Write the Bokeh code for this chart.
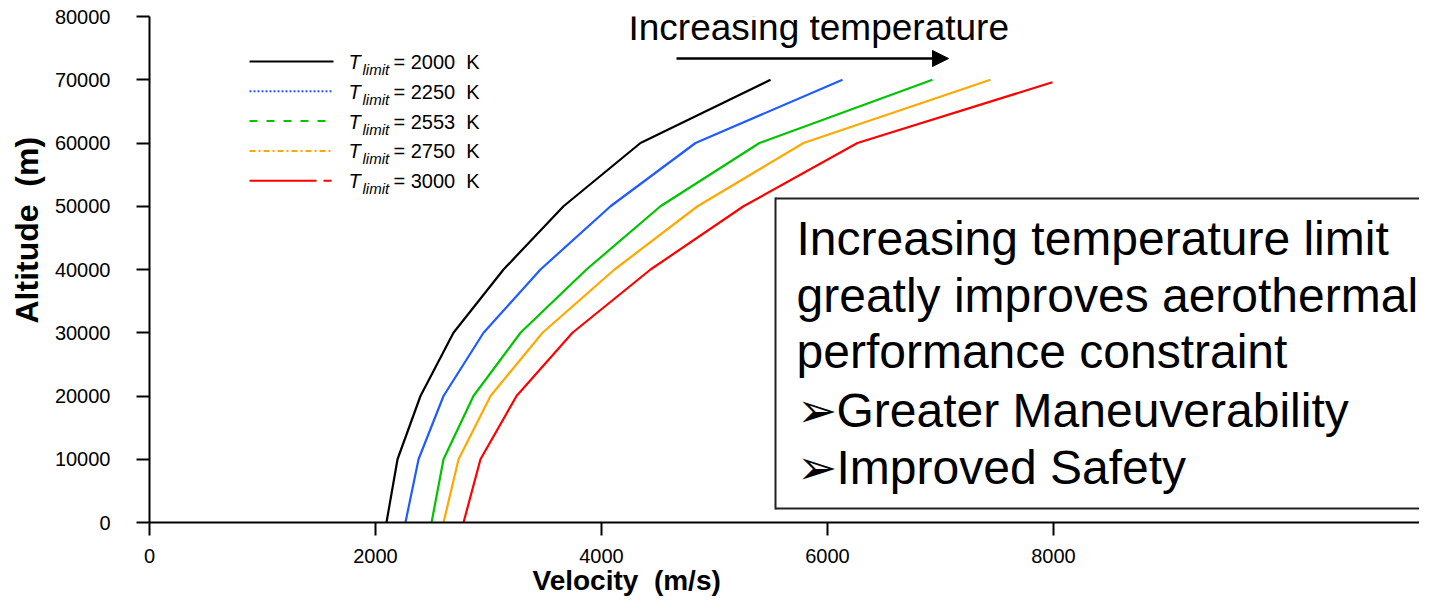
import math
from bokeh.plotting import figure
from bokeh.models import Label, Arrow, NormalHead, BoxAnnotation, FixedTicker, Title
from bokeh.embed import file_html
from bokeh.resources import INLINE

# ---------------- data ----------------
altitude = [0, 10000, 20000, 30000, 40000, 50000, 60000, 70000]
altitude_red = [0, 10000, 20000, 30000, 40000, 50000, 60000, 69600]
v_2000 = [2097, 2195, 2398, 2690, 3133, 3664, 4345, 5496]
v_2250 = [2265, 2381, 2602, 2956, 3460, 4080, 4832, 6133]
v_2553 = [2496, 2602, 2867, 3283, 3867, 4522, 5398, 6929]
v_2750 = [2602, 2735, 3018, 3478, 4115, 4850, 5788, 7442]
v_3000 = [2779, 2929, 3248, 3743, 4434, 5257, 6265, 7991]
t_limits = ["2000", "2250", "2553", "2750", "3000"]
x_ticks = [0, 2000, 4000, 6000, 8000]
y_ticks = [0, 10000, 20000, 30000, 40000, 50000, 60000, 70000, 80000]
x_tick_labels = ["0", "2000", "4000", "6000", "8000"]
y_tick_labels = ["0", "10000", "20000", "30000", "40000", "50000", "60000", "70000", "80000"]
box_lines = ["Increasing temperature limit",
             "greatly improves aerothermal",
             "performance constraint",
             "\u27a2Greater Maneuverability",
             "\u27a2Improved Safety"]
x_title = "Velocity\u00a0 (m/s)"
y_title = "Altitude\u00a0 (m)"

# ---------------- geometry (pixels from the figure's top-left) ----------------
W, H = 1419, 600
FRAME_L, FRAME_T, FRAME_B = 149, 16, 522
X_PX = 0.113                                 # px per m/s
Y_PX = (FRAME_B - FRAME_T) / 80000.0
X_END = (W - FRAME_L) / X_PX

def dx(px):
    return (px - FRAME_L) / X_PX

def dy(py):
    return (FRAME_B - py) / Y_PX

FONT = "Liberation Sans"

p = figure(width=W, height=H, x_range=(0, X_END), y_range=(0, 80000),
           output_backend="svg", toolbar_location=None,
           min_border_left=FRAME_L, min_border_right=0,
           min_border_top=FRAME_T, min_border_bottom=H - FRAME_B)
p.outline_line_color = None
p.xgrid.visible = False
p.ygrid.visible = False
p.background_fill_color = "white"
p.border_fill_color = "white"

for ax in (p.xaxis[0], p.yaxis[0]):
    ax.axis_line_width = 2
    ax.axis_line_color = "black"
    ax.major_tick_line_width = 2
    ax.major_tick_line_color = "black"
    ax.major_tick_in = 0
    ax.major_tick_out = 13
    ax.minor_tick_line_color = None
    ax.major_label_text_font = FONT
    ax.major_label_text_font_size = "20px"
    ax.major_label_text_color = "black"

p.xaxis.ticker = FixedTicker(ticks=x_ticks)
p.yaxis.ticker = FixedTicker(ticks=y_ticks)
p.xaxis.major_label_overrides = {t: l for t, l in zip(x_ticks, x_tick_labels)}
p.yaxis.major_label_overrides = {t: l for t, l in zip(y_ticks, y_tick_labels)}
p.xaxis.major_label_standoff = 13
p.xaxis.major_label_text_line_height = 0.8
p.yaxis.major_label_standoff = 26

# axis titles as side-panel titles, placed off-centre as in the original
p.add_layout(Title(text=x_title, align="left", offset=383, standoff=-5,
                   text_font=FONT, text_font_size="28px", text_font_style="bold",
                   text_color="black"), "below")
p.add_layout(Title(text=y_title, align="left", offset=199, standoff=13,
                   text_font=FONT, text_font_size="32px", text_font_style="bold",
                   text_color="black"), "left")

series = [v_2000, v_2250, v_2553, v_2750, v_3000]
alts = [altitude, altitude, altitude, altitude, altitude_red]
colors = ["black", "#1f5cff", "#00c400", "#ffa800", "#ff0000"]
dashes = ["solid", "2 2", "8 9", "6 3 2 3", "67 7 8 7"]

for v, a, c in zip(series, alts, colors):
    p.line(v, a, line_color=c, line_width=2.2)

# ---------------- legend (drawn manually) ----------------
for i, (c, d, t) in enumerate(zip(colors, dashes, t_limits)):
    ly = 61 + 29.8 * i
    p.add_layout(Arrow(x_start=dx(249), y_start=dy(ly), x_end=dx(333), y_end=dy(ly),
                       end=None, line_color=c, line_width=2, line_dash=d))
    p.add_layout(Label(x=dx(348), y=dy(ly + 0.5), text="T", text_font=FONT,
                       text_font_style="italic", text_font_size="20px",
                       text_baseline="middle", text_color="black"))
    p.add_layout(Label(x=dx(362), y=dy(ly + 8), text="limit", text_font=FONT,
                       text_font_style="italic", text_font_size="15px",
                       text_baseline="middle", text_color="black"))
    p.add_layout(Label(x=dx(393), y=dy(ly + 0.5), text="= " + t + "\u00a0 K", text_font=FONT,
                       text_font_size="20px", text_baseline="middle", text_color="black"))

# ---------------- annotation arrow ----------------
p.add_layout(Label(x=dx(628), y=dy(27), text="Increasing temperature", text_font=FONT,
                   text_font_size="37px", text_baseline="middle", text_color="black"))
p.add_layout(Arrow(x_start=dx(676), y_start=dy(58), x_end=dx(948), y_end=dy(58),
                   line_color="black", line_width=2.5,
                   end=NormalHead(size=16, fill_color="black", line_color="black")))

# ---------------- text box ----------------
BOX_L, BOX_T, BOX_B = 775, 198, 508
p.add_layout(BoxAnnotation(left=dx(BOX_L), right=X_END, top=dy(BOX_T), bottom=dy(BOX_B),
                           fill_color="white", fill_alpha=1.0, line_color=None))
for (xs, ys, xe, ye) in [(BOX_L, BOX_T, W + 20, BOX_T), (BOX_L, BOX_B, W + 20, BOX_B),
                         (BOX_L, BOX_T - 1, BOX_L, BOX_B + 1)]:
    p.add_layout(Arrow(x_start=dx(xs), y_start=dy(ys), x_end=dx(xe), y_end=dy(ye),
                       end=None, line_color="#222222", line_width=2))
middles = [238, 295, 351, 410, 467]
for txt, my in zip(box_lines, middles):
    p.add_layout(Label(x=dx(796), y=dy(my), text=txt, text_font=FONT,
                       text_font_size="48px", text_baseline="middle", text_color="black"))

open("out.html", "w").write(file_html(p, INLINE))
